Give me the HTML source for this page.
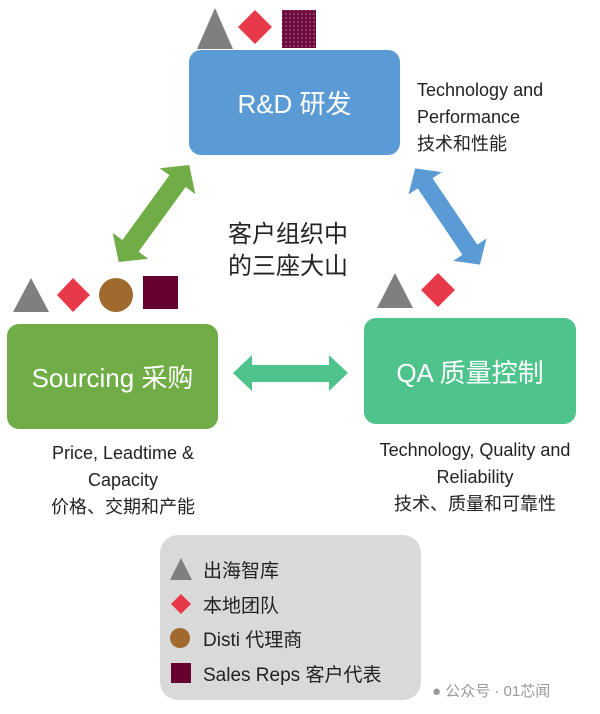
<!DOCTYPE html>
<html><head><meta charset="utf-8"><style>
body{margin:0;width:600px;height:714px;background:#fff;position:relative;overflow:hidden;font-family:"Liberation Sans","Noto Sans CJK SC",sans-serif;}
.a{position:absolute;}
.box{position:absolute;border-radius:12px;color:#fff;display:flex;align-items:center;justify-content:center;font-size:26px;}
.t{position:absolute;text-align:center;color:#222;font-size:18px;line-height:27px;}
</style></head><body>
<svg class="a" style="left:0;top:0" width="600" height="714">
<defs><pattern id="dots" width="4" height="4" patternUnits="userSpaceOnUse"><rect width="4" height="4" fill="#6b0b3e"/><circle cx="2" cy="2" r="0.8" fill="#c07090"/></pattern></defs>
<polygon points="197,49 215,8 233,49" fill="#7f7f7f"/>
<polygon points="255,10 272,27 255,44 238,27" fill="#e8394a"/>
<rect x="282" y="10" width="34" height="38" fill="url(#dots)"/>
<polygon points="13,312 31,278 49,312" fill="#7f7f7f"/>
<polygon points="73,278 90,295 73,312 57,295" fill="#e8394a"/>
<circle cx="116" cy="295" r="17" fill="#a0692d"/>
<rect x="143" y="276" width="35" height="33" fill="#650030"/>
<polygon points="377,308 395,273 413,308" fill="#7f7f7f"/>
<polygon points="438,273 455,290 438,307 421,290" fill="#e8394a"/>
<g transform="translate(154,213.5) rotate(-54)">
<polygon points="-60,0 -40,-22 -40,-10 40,-10 40,-22 60,0 40,22 40,10 -40,10 -40,22" fill="#70ad47"/></g>
<g transform="translate(447.5,216.5) rotate(56)">
<polygon points="-58,0 -40,-20 -40,-9 40,-9 40,-20 58,0 40,20 40,9 -40,9 -40,20" fill="#5b9bd5"/></g>
<polygon points="233,373 252,355 252,365 329,365 329,355 348,373 329,391 329,382 252,382 252,391" fill="#4ec38b"/>
</svg>
<div class="box" style="left:189px;top:50px;width:211px;height:105px;background:#5b9bd5;">R&amp;D 研发</div>
<div class="box" style="left:7px;top:324px;width:211px;height:105px;background:#70ad47;">Sourcing 采购</div>
<div class="box" style="left:364px;top:318px;width:212px;height:106px;background:#4ec38b;">QA 质量控制</div>
<div class="t" style="left:417px;top:77px;text-align:left;">Technology and<br>Performance<br>技术和性能</div>
<div class="t" style="left:228px;top:219px;font-size:24px;line-height:32px;text-align:left;">客户组织中<br>的三座大山</div>
<div class="t" style="left:10px;top:440px;width:226px;">Price, Leadtime &amp;<br>Capacity<br>价格、交期和产能</div>
<div class="t" style="left:360px;top:437px;width:230px;">Technology, Quality and<br>Reliability<br>技术、质量和可靠性</div>
<div class="a" style="left:160px;top:535px;width:261px;height:165px;background:#d9d9d9;border-radius:18px;"></div>
<svg class="a" style="left:0;top:0" width="600" height="714">
<polygon points="170,580 181,558 192,580" fill="#7f7f7f"/>
<polygon points="181,594 191,604 181,614 171,604" fill="#e8394a"/>
<circle cx="180" cy="638" r="10" fill="#a0692d"/>
<rect x="171" y="663" width="20" height="20" fill="#650030"/>
</svg>
<div class="t" style="left:203px;top:555px;text-align:left;font-size:19px;line-height:34.5px;">出海智库<br>本地团队<br>Disti 代理商<br>Sales Reps 客户代表</div>
<div class="a" style="left:432px;top:680px;font-size:15px;color:#999;">● 公众号 · 01芯闻</div>
</body></html>
